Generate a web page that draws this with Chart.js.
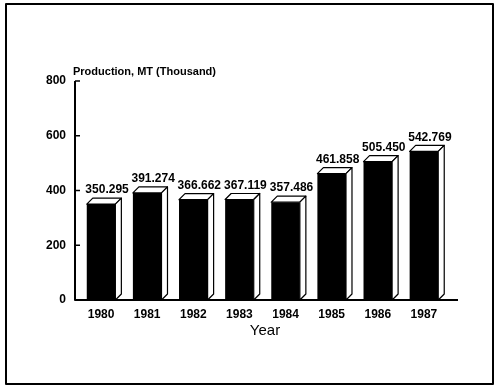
<!DOCTYPE html>
<html>
<head>
<meta charset="utf-8">
<script src="https://cdn.jsdelivr.net/npm/chart.js@4"></script>
<style>
  html, body { margin: 0; padding: 0; background: #fff; }
  #wrap { width: 500px; height: 390px; position: relative; }
</style>
</head>
<body>
<div id="wrap"><canvas id="prodChart" width="500" height="390"></canvas></div>
<script>
const years = ["1980", "1981", "1982", "1983", "1984", "1985", "1986", "1987"];
const production = [350.295, 391.274, 366.662, 367.119, 357.486, 461.858, 505.45, 542.769];
const valueLabels = ["350.295", "391.274", "366.662", "367.119", "357.486", "461.858", "505.450", "542.769"];
const yTicks = [0, 200, 400, 600, 800];

const FONT = "'Liberation Sans', Arial, sans-serif";
const DEPTH = 6;

// frame, axes, inward ticks, 3d faces and texts
const decorPlugin = {
  id: "decor",
  afterDatasetsDraw(chart) {
    const ctx = chart.ctx;
    const area = chart.chartArea;
    const yScale = chart.scales.y;
    const meta = chart.getDatasetMeta(0);
    const axisX = 75;

    ctx.save();
    ctx.strokeStyle = "#000";
    ctx.fillStyle = "#fff";
    ctx.lineWidth = 1.2;
    ctx.lineJoin = "round";

    meta.data.forEach((bar, i) => {
      const l = bar.x - bar.width / 2;
      const r = bar.x + bar.width / 2;
      const t = bar.y;
      const b = bar.base;
      // top face
      ctx.beginPath();
      ctx.moveTo(l, t);
      ctx.lineTo(l + DEPTH, t - DEPTH);
      ctx.lineTo(r + DEPTH, t - DEPTH);
      ctx.lineTo(r, t);
      ctx.closePath();
      ctx.fill();
      ctx.stroke();
      // side face
      ctx.beginPath();
      ctx.moveTo(r, t);
      ctx.lineTo(r + DEPTH, t - DEPTH);
      ctx.lineTo(r + DEPTH, b - DEPTH);
      ctx.lineTo(r, b);
      ctx.closePath();
      ctx.fill();
      ctx.stroke();

      ctx.fillStyle = "#000";
      ctx.font = "bold 12px " + FONT;
      ctx.textAlign = "center";
      ctx.textBaseline = "bottom";
      ctx.fillText(valueLabels[i], bar.x + 6, t - DEPTH - 2);
      ctx.fillStyle = "#fff";
    });

    // axes
    ctx.lineWidth = 2;
    ctx.beginPath();
    ctx.moveTo(axisX, area.top);
    ctx.lineTo(axisX, area.bottom);
    ctx.lineTo(458, area.bottom);
    ctx.stroke();

    // inward tick marks
    ctx.lineWidth = 1.5;
    yTicks.forEach((v) => {
      if (v === 0) return;
      const py = yScale.getPixelForValue(v);
      ctx.beginPath();
      ctx.moveTo(axisX, py);
      ctx.lineTo(axisX + 5, py);
      ctx.stroke();
    });

    // outer frame
    ctx.lineWidth = 2;
    ctx.strokeRect(6, 4, 487, 380);

    // y title
    ctx.fillStyle = "#000";
    ctx.font = "bold 11px " + FONT;
    ctx.textAlign = "left";
    ctx.textBaseline = "middle";
    ctx.fillText("Production, MT (Thousand)", 73, 72);

    // x title
    ctx.font = "15px " + FONT;
    ctx.textAlign = "center";
    ctx.fillText("Year", 265, 331);
    ctx.restore();
  },
};

const ctx = document.getElementById("prodChart").getContext("2d");

new Chart(ctx, {
  type: "bar",
  data: {
    labels: years,
    datasets: [
      {
        data: production,
        backgroundColor: "#000",
        borderWidth: 0,
        barPercentage: 0.62,
        categoryPercentage: 1,
      },
    ],
  },
  options: {
    responsive: false,
    animation: false,
    layout: {
      padding: { top: 81, right: 53, left: 0, bottom: 0 },
    },
    plugins: {
      legend: { display: false },
      tooltip: { enabled: false },
    },
    scales: {
      y: {
        min: 0,
        max: 800,
        afterFit: (scale) => { scale.width = 78; },
        afterBuildTicks: (scale) => {
          scale.ticks = yTicks.map((v) => ({ value: v }));
        },
        grid: { display: false, drawTicks: false },
        border: { display: false },
        ticks: {
          padding: 12,
          color: "#000",
          font: { family: FONT, size: 12, weight: "bold" },
        },
      },
      x: {
        afterFit: (scale) => { scale.height = 90; },
        grid: { display: false, drawTicks: false },
        border: { display: false },
        ticks: {
          padding: 7,
          color: "#000",
          maxRotation: 0,
          font: { family: FONT, size: 12, weight: "bold" },
        },
      },
    },
  },
  plugins: [decorPlugin],
});
</script>
</body>
</html>
